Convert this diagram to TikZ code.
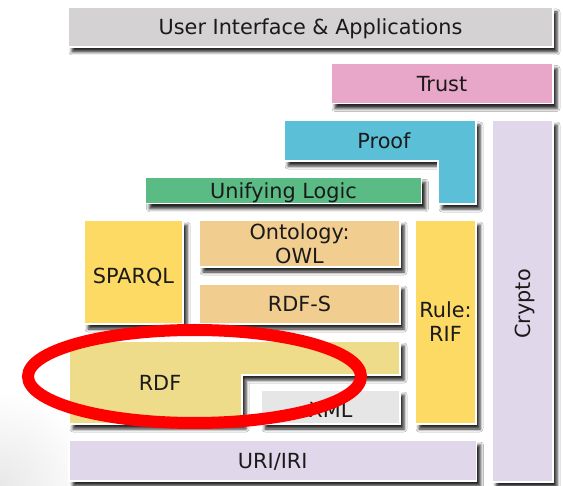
\documentclass[tikz,border=0pt]{standalone}
\usepackage{fontspec}
\setmainfont{DejaVu Sans}
\usetikzlibrary{shadows.blur}
\definecolor{cUI}{HTML}{D4D2D3}
\definecolor{cTrust}{HTML}{E8A7C8}
\definecolor{cProof}{HTML}{5BBFD7}
\definecolor{cLogic}{HTML}{5BBB85}
\definecolor{cYel}{HTML}{FCDA63}
\definecolor{cTan}{HTML}{F1CD90}
\definecolor{cRDF}{HTML}{EEDC8A}
\definecolor{cXML}{HTML}{E6E6E6}
\definecolor{cLav}{HTML}{E0D8EA}
\definecolor{cTxt}{HTML}{1A1A1A}
\begin{document}
\begin{tikzpicture}[x=1pt,y=-1pt,
  font=\fontsize{20.8}{24}\selectfont, text=cTxt,
  shad/.style={blur shadow={shadow xshift=4pt, shadow yshift=-5pt, shadow blur radius=3pt, shadow opacity=85}},
  layer/.style={shad, draw=white, line width=1.5pt, inner sep=0pt, align=center},
  lbl/.style={inner sep=0pt, align=center},
  one/.style={text height=15.2pt, text depth=0pt}]
\useasboundingbox (0,0) rectangle (563,486);
\fill[white] (0,0) rectangle (563,486);
\begin{scope}
\clip (0,0) rectangle (563,486);
\shade[inner color=black!9, outer color=white] (0,486) circle (95);
\end{scope}
% plain boxes
\node[layer, one, fill=cUI, minimum width=485, minimum height=40] (ui) at (310.5,27) {User Interface \& Applications};
\node[layer, one, fill=cTrust, minimum width=222, minimum height=40] (trust) at (442,83.5) {Trust};
\node[layer, fill=cLav, minimum width=61, minimum height=362] (crypto) at (522.5,301) {};
\node[lbl, one, rotate=90] (cryptotxt) at (522.5,304) {Crypto};
\node[layer, one, fill=cLogic, minimum width=276, minimum height=26.5] (logic) at (283.5,190.5) {Unifying Logic};
\node[layer, fill=cYel, minimum width=99, minimum height=104] (sparql) at (133.5,272) {};
\node[lbl, one] (sparqltxt) at (133.5,276) {SPARQL};
\node[layer, fill=cTan, minimum width=201, minimum height=47] (owl) at (299.5,243.5) {Ontology:\\OWL};
\node[layer, one, fill=cTan, minimum width=201, minimum height=40] (rdfs) at (299.5,304) {RDF-S};
\node[layer, fill=cYel, minimum width=61, minimum height=204] (rule) at (445.5,322) {Rule:\\RIF};
\node[layer, fill=cXML, minimum width=139, minimum height=34] (xml) at (330.5,407) {};
\node[lbl, one] (xmltxt) at (330.5,409.5) {XML};
\node[layer, one, fill=cLav, minimum width=407.5, minimum height=41] (uri) at (272.75,460.5) {URI/IRI};
% L-shaped layers
\path[shad, fill=cProof, draw=white, line width=1.5pt]
  (284,120) -- (476,120) -- (476,204) -- (438,204) -- (438,161) -- (284,161) -- cycle;
\node[lbl, one] (proof) at (384,140.5) {Proof};
\path[shad, fill=cRDF, draw=white, line width=1.5pt]
  (69,341) -- (400,341) -- (400,375) -- (242,375) -- (242,424) -- (69,424) -- cycle;
\node[lbl, one] (rdf) at (160,382.5) {RDF};
% highlight ring
\draw[red, line width=12pt] (194.5,376.5) ellipse [x radius=166.5, y radius=46.5];
\end{tikzpicture}
\end{document}
